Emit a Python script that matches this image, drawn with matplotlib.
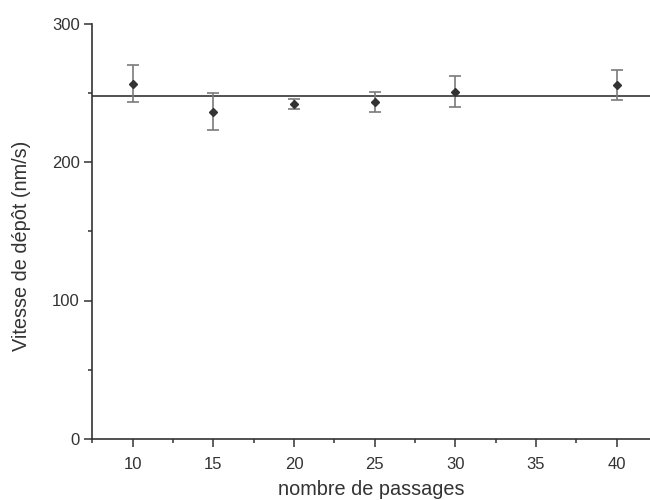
import matplotlib.pyplot as plt
from matplotlib.ticker import MultipleLocator

plt.rcParams['font.family'] = ['Liberation Sans', 'DejaVu Sans']

passages = [10, 15, 20, 25, 30, 40]
vitesse = [256.5, 236.2, 241.7, 243.6, 250.8, 255.9]
erreur = [13.5, 13.3, 3.7, 7.3, 11.1, 10.8]
moyenne = 248

fig = plt.figure(figsize=(6.5, 5), dpi=100)
ax = fig.add_axes([0.142, 0.122, 0.858, 0.831])

ax.axhline(moyenne, color='#333333', lw=1.2, zorder=1)
ax.errorbar(passages, vitesse, yerr=erreur, fmt='D', ms=4.5, color='#333333',
            ecolor='#7a7a7a', elinewidth=1.2, capsize=4, capthick=1.2, zorder=3)

ax.set_xlim(7.5, 42.07)
ax.set_ylim(0, 300)
ax.xaxis.set_major_locator(MultipleLocator(5))
ax.xaxis.set_minor_locator(MultipleLocator(2.5))
ax.yaxis.set_major_locator(MultipleLocator(100))
ax.yaxis.set_minor_locator(MultipleLocator(50))
ax.set_xticks([10, 15, 20, 25, 30, 35, 40])

for s in ['top', 'right']:
    ax.spines[s].set_visible(False)
for s in ['left', 'bottom']:
    ax.spines[s].set_color('#333333')
    ax.spines[s].set_linewidth(1.2)

ax.tick_params(which='major', length=6, width=1.1, color='#333333',
               labelsize=12, labelcolor='#333333')
ax.tick_params(axis='x', which='major', pad=7)
ax.tick_params(axis='y', which='major', pad=3)
ax.tick_params(which='minor', length=3, width=1.1, color='#333333')

ax.set_xlabel('nombre de passages', fontsize=14.3, color='#333333', labelpad=6)
ax.set_ylabel('Vitesse de dépôt (nm/s)', fontsize=14.3, color='#333333')
ax.yaxis.set_label_coords(-0.11, 0.466)

fig.savefig('out.png', dpi=100)
